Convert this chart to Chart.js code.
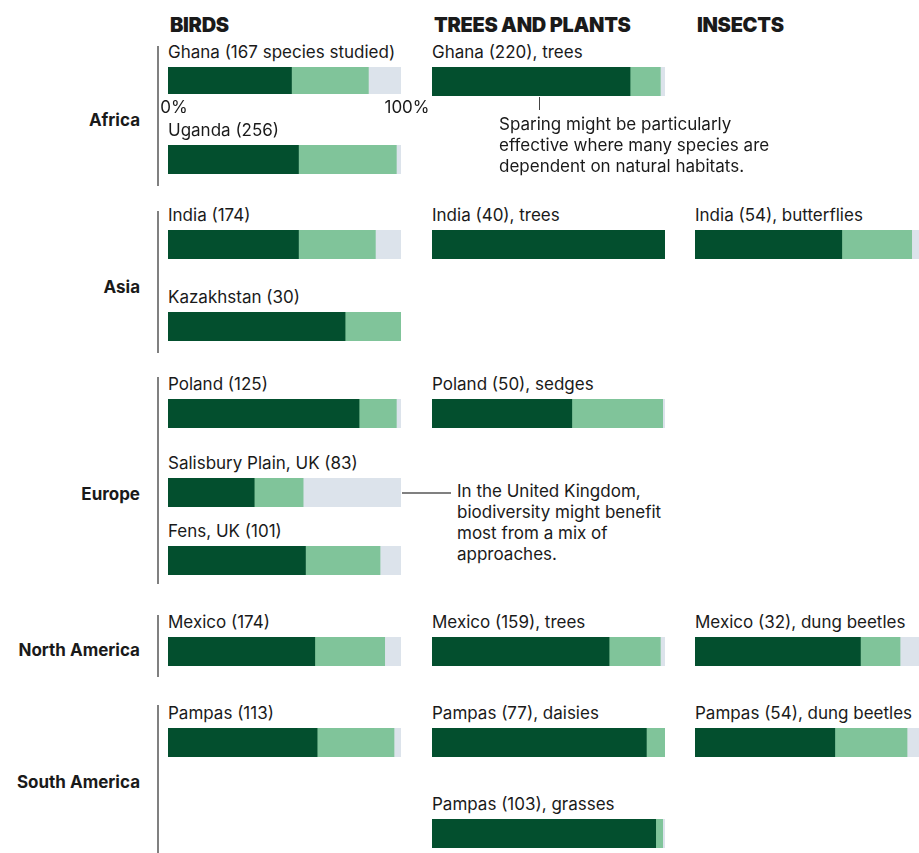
<!DOCTYPE html>
<html>
<head>
<meta charset="utf-8">
<script src="https://cdn.jsdelivr.net/npm/chart.js@4.4.1/dist/chart.umd.min.js"></script>
<style>
  body { margin: 0; background: #fff; }
  #wrap { position: relative; width: 919px; height: 853px; overflow: hidden; font-family: Inter, "Noto Sans", sans-serif; color: #1a1a1a; }
  .txt { position: absolute; white-space: nowrap; font-size: 17px; line-height: 16px; }
  .head { position: absolute; white-space: nowrap; font-size: 20px; line-height: 20px; font-weight: 900; letter-spacing: -0.3px; }
  .region { position: absolute; white-space: nowrap; font-size: 17px; line-height: 20px; font-weight: 700; text-align: right; width: 140px; left: 0; }
  .note { position: absolute; white-space: nowrap; font-size: 17px; line-height: 21px; }
  .rule { position: absolute; background: #808080; }
  canvas { position: absolute; }
</style>
</head>
<body>
<div id="wrap"></div>
<script>
// columns, regions and studies
const columnTitles = ['BIRDS', 'TREES AND PLANTS', 'INSECTS']
const regionNames = ['Africa', 'Asia', 'Europe', 'North America', 'South America']
const studyLabels = [
  'Ghana (167 species studied)', 'Uganda (256)', 'India (174)', 'Kazakhstan (30)',
  'Poland (125)', 'Salisbury Plain, UK (83)', 'Fens, UK (101)', 'Mexico (174)', 'Pampas (113)',
  'Ghana (220), trees', 'India (40), trees', 'Poland (50), sedges', 'Mexico (159), trees',
  'Pampas (77), daisies', 'Pampas (103), grasses',
  'India (54), butterflies', 'Mexico (32), dung beetles', 'Pampas (54), dung beetles'
]
const studyColumn = [0,0,0,0,0,0,0,0,0, 1,1,1,1,1,1, 2,2,2]

// share of species (%) in each of the three groups
const sparingShare = [53, 56, 56, 76, 82, 37, 59, 63, 64, 85, 100, 60, 76, 92, 96, 63, 71, 60]
const mixedShare   = [33, 42, 33, 24, 16, 21, 32, 30, 33, 13,   0, 39, 22,  8,  3, 30, 17, 31]
const sharingShare = [14,  2, 11,  0,  2, 42,  9,  7,  3,  2,   0,  1,  2,  0,  1,  7, 12,  9]
const axisTicks = [0, 100]

const notes = [
  ['Sparing might be particularly', 'effective where many species are', 'dependent on natural habitats.'],
  ['In the United Kingdom,', 'biodiversity might benefit', 'most from a mix of', 'approaches.']
]

// layout
const colLeft = [168, 432, 695]
const barTop = [67, 145, 230, 312, 399, 478, 546, 637, 728, 67, 230, 399, 637, 728, 819, 230, 637, 728]
const BAR_W = 233, BAR_H = 29
const regionMid = [120, 287, 494, 650, 782]
const regionSpan = [[46, 186], [211, 353], [377, 584], [615, 677], [705, 860]]
const colors = ['#034f2e', '#80c49a', '#dce3eb']

let wrap = document.getElementById('wrap')

function addDiv(cls, text, left, top) {
  let d = document.createElement('div')
  d.className = cls
  d.textContent = text
  d.style.left = left + 'px'
  d.style.top = top + 'px'
  wrap.appendChild(d)
  return d
}

columnTitles.forEach((t, i) => addDiv('head', t, colLeft[i] + 2, 15))

regionNames.forEach((r, i) => {
  addDiv('region', r, 0, regionMid[i] - 10)
  let line = addDiv('rule', '', 157, regionSpan[i][0])
  line.style.width = '2px'
  line.style.height = (regionSpan[i][1] - regionSpan[i][0]) + 'px'
})

studyLabels.forEach((label, i) => {
  let left = colLeft[studyColumn[i]]
  addDiv('txt', label, left, barTop[i] - 23)

  let withAxis = i === 0
  let padL = withAxis ? 30 : 0, padR = withAxis ? 40 : 0
  let c = document.createElement('canvas')
  let w = BAR_W + padL + padR, h = BAR_H + (withAxis ? 25 : 0)
  c.width = w; c.height = h
  c.style.width = w + 'px'; c.style.height = h + 'px'
  c.style.left = (left - padL) + 'px'
  c.style.top = barTop[i] + 'px'
  wrap.appendChild(c)

  new Chart(c, {
    type: 'bar',
    data: {
      labels: [label],
      datasets: [
        { data: [sparingShare[i]], backgroundColor: colors[0] },
        { data: [mixedShare[i]], backgroundColor: colors[1] },
        { data: [sharingShare[i]], backgroundColor: colors[2] }
      ]
    },
    options: {
      indexAxis: 'y',
      responsive: false,
      animation: false,
      events: [],
      layout: { padding: { left: padL, right: padR, top: 0, bottom: 0 } },
      datasets: { bar: { barPercentage: 1, categoryPercentage: 1 } },
      plugins: { legend: { display: false }, tooltip: { enabled: false } },
      scales: {
        x: {
          stacked: true, min: 0, max: 100,
          display: withAxis,
          grid: { display: false, drawTicks: false },
          border: { display: false },
          afterBuildTicks: s => { s.ticks = axisTicks.map(v => ({ value: v })) },
          ticks: {
            callback: v => v + '%',
            color: '#1a1a1a',
            font: { family: 'Inter', size: 17 },
            padding: 4,
            labelOffset: 6,
            maxRotation: 0,
            autoSkip: false
          }
        },
        y: { stacked: true, display: false }
      }
    }
  })
})

// annotations
let n1 = addDiv('note', '', 499, 114)
n1.innerHTML = notes[0].join('<br>')
let tick1 = addDiv('rule', '', 539, 97)
tick1.style.width = '1px'; tick1.style.height = '13px'; tick1.style.background = '#444'

let n2 = addDiv('note', '', 457, 481)
n2.innerHTML = notes[1].join('<br>')
let tick2 = addDiv('rule', '', 402, 492)
tick2.style.width = '49px'; tick2.style.height = '2px'
</script>
</body>
</html>
